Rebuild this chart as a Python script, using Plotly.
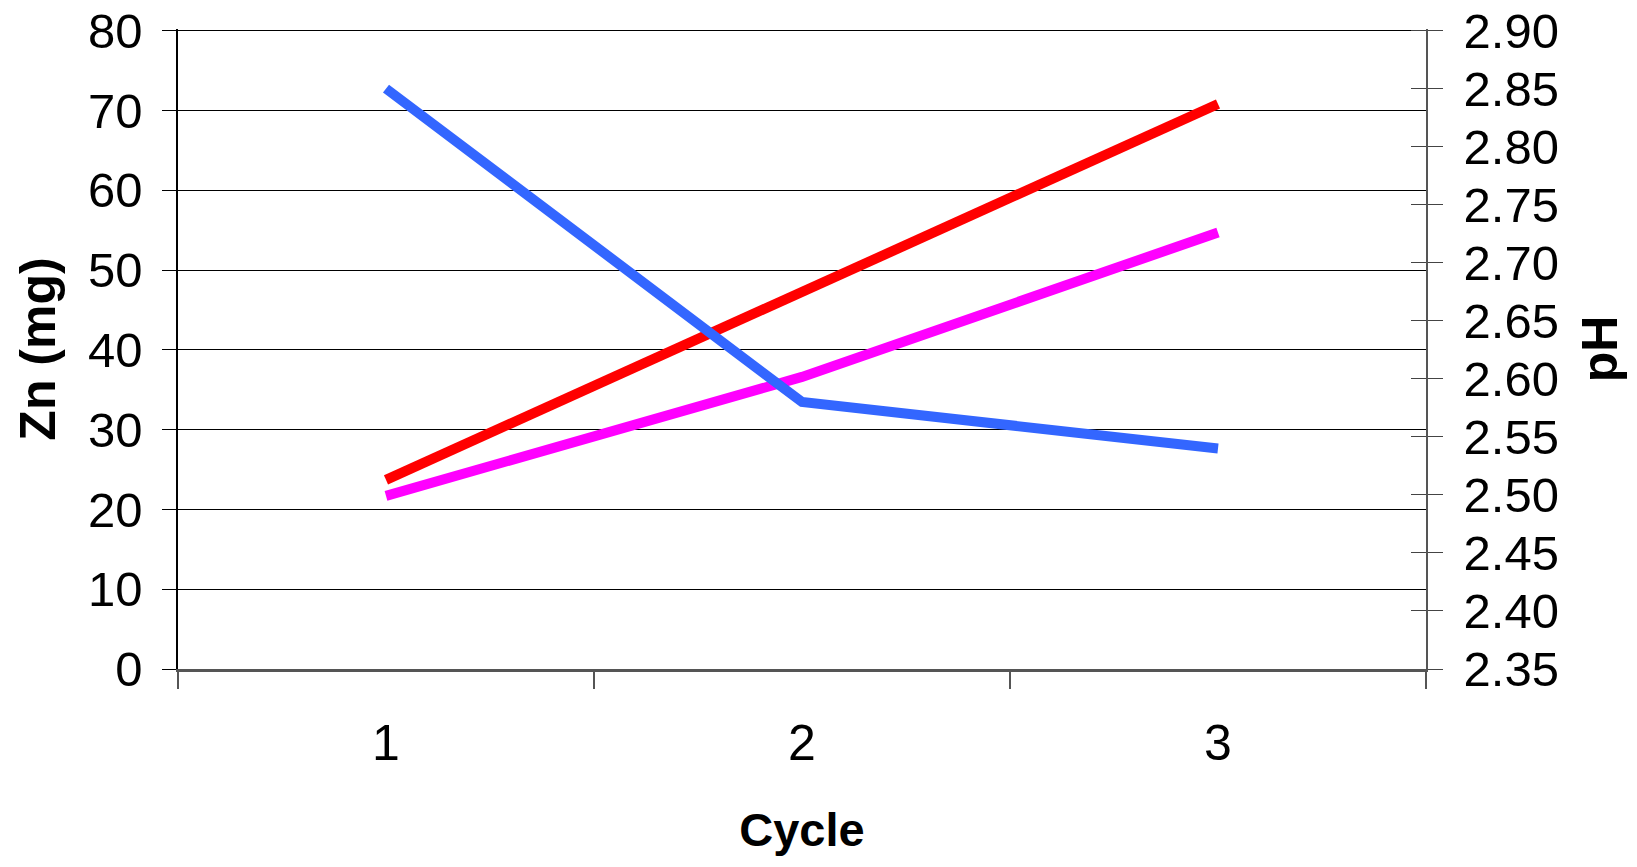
import plotly.graph_objects as go

# ---- data ----
cycles = ["1", "2", "3"]
zn_red = [23.7, 47.2, 70.8]        # Zn (mg), red series
zn_magenta = [21.7, 36.6, 54.7]    # Zn (mg), magenta series
ph_blue = [2.85, 2.58, 2.54]       # pH, blue series
zn_ticks = [0, 10, 20, 30, 40, 50, 60, 70, 80]
ph_ticks = [2.35, 2.40, 2.45, 2.50, 2.55, 2.60, 2.65, 2.70, 2.75, 2.80, 2.85, 2.90]

FONT = "Liberation Sans, Arial, sans-serif"

# small top padding so plotly does not drop the 80 gridline / top ticks
ZN_PAD = 0.2
ZN_RANGE = [0, 80 + ZN_PAD]
PH_PAD = ZN_PAD * 0.55 / 80
PH_RANGE = [2.35, 2.90 + PH_PAD]
PAD_PX = ZN_PAD * 638 / 80

fig = go.Figure()
fig.add_trace(go.Scatter(x=cycles, y=zn_red, mode="lines", name="Zn red",
                         line=dict(color="#FF0000", width=10), yaxis="y"))
fig.add_trace(go.Scatter(x=cycles, y=zn_magenta, mode="lines", name="Zn magenta",
                         line=dict(color="#FF00FF", width=10), yaxis="y"))
fig.add_trace(go.Scatter(x=cycles, y=ph_blue, mode="lines", name="pH",
                         line=dict(color="#3366FF", width=10), yaxis="y2"))
# transparent copy so the inner-tick pH axis (y3) is instantiated
fig.add_trace(go.Scatter(x=cycles, y=ph_blue, mode="lines", name="pH ticks",
                         line=dict(color="#3366FF", width=1), opacity=0,
                         hoverinfo="skip", yaxis="y3"))

fig.update_layout(
    width=1637, height=867,
    margin=dict(l=170, r=219, t=23 - PAD_PX, b=206, autoexpand=False),
    paper_bgcolor="white", plot_bgcolor="white",
    showlegend=False,
    font=dict(family=FONT, color="black"),
    xaxis=dict(
        type="category", range=[-0.5, 2.5], tickson="boundaries",
        ticks="outside", ticklen=17, tickcolor="#555", tickwidth=1.5,
        showgrid=False, showline=True, linecolor="#555", linewidth=2.5,
        tickfont=dict(family=FONT, size=50, color="black"),
        ticklabelstandoff=28,
        title=dict(text="<b>Cycle</b>", font=dict(family=FONT, size=47, color="black"), standoff=44),
        automargin=False, zeroline=False,
    ),
    yaxis=dict(
        range=ZN_RANGE, tickvals=zn_ticks, ticks="outside", ticklen=14,
        tickcolor="black", tickwidth=1.2,
        showgrid=True, gridcolor="black", gridwidth=1.2,
        showline=True, linecolor="black", linewidth=1.5,
        zeroline=False,
        tickfont=dict(family=FONT, size=49, color="black"),
        ticklabelstandoff=10, ticklabeloverflow="allow",
        title=dict(text="<b>Zn (mg)</b>", font=dict(family=FONT, size=50, color="black"), standoff=16),
        automargin=False,
    ),
    yaxis2=dict(
        overlaying="y", side="right", anchor="x",
        range=PH_RANGE, tickvals=ph_ticks, tickformat=".2f",
        ticks="outside", ticklen=15, tickcolor="#444", tickwidth=1.2,
        showgrid=False, showline=True, linecolor="#555", linewidth=1.5,
        zeroline=False,
        tickfont=dict(family=FONT, size=49, color="black"),
        ticklabelstandoff=11, ticklabeloverflow="allow",
        title=dict(text="<b>pH</b>", font=dict(family=FONT, size=50, color="black"), standoff=24),
        automargin=False,
    ),
    yaxis3=dict(
        overlaying="y", side="right", anchor="x",
        range=PH_RANGE, tickvals=ph_ticks,
        ticks="inside", ticklen=15, tickcolor="#444", tickwidth=1.2,
        showticklabels=False, showgrid=False, showline=False, zeroline=False,
    ),
)

fig.write_html("out.html")
